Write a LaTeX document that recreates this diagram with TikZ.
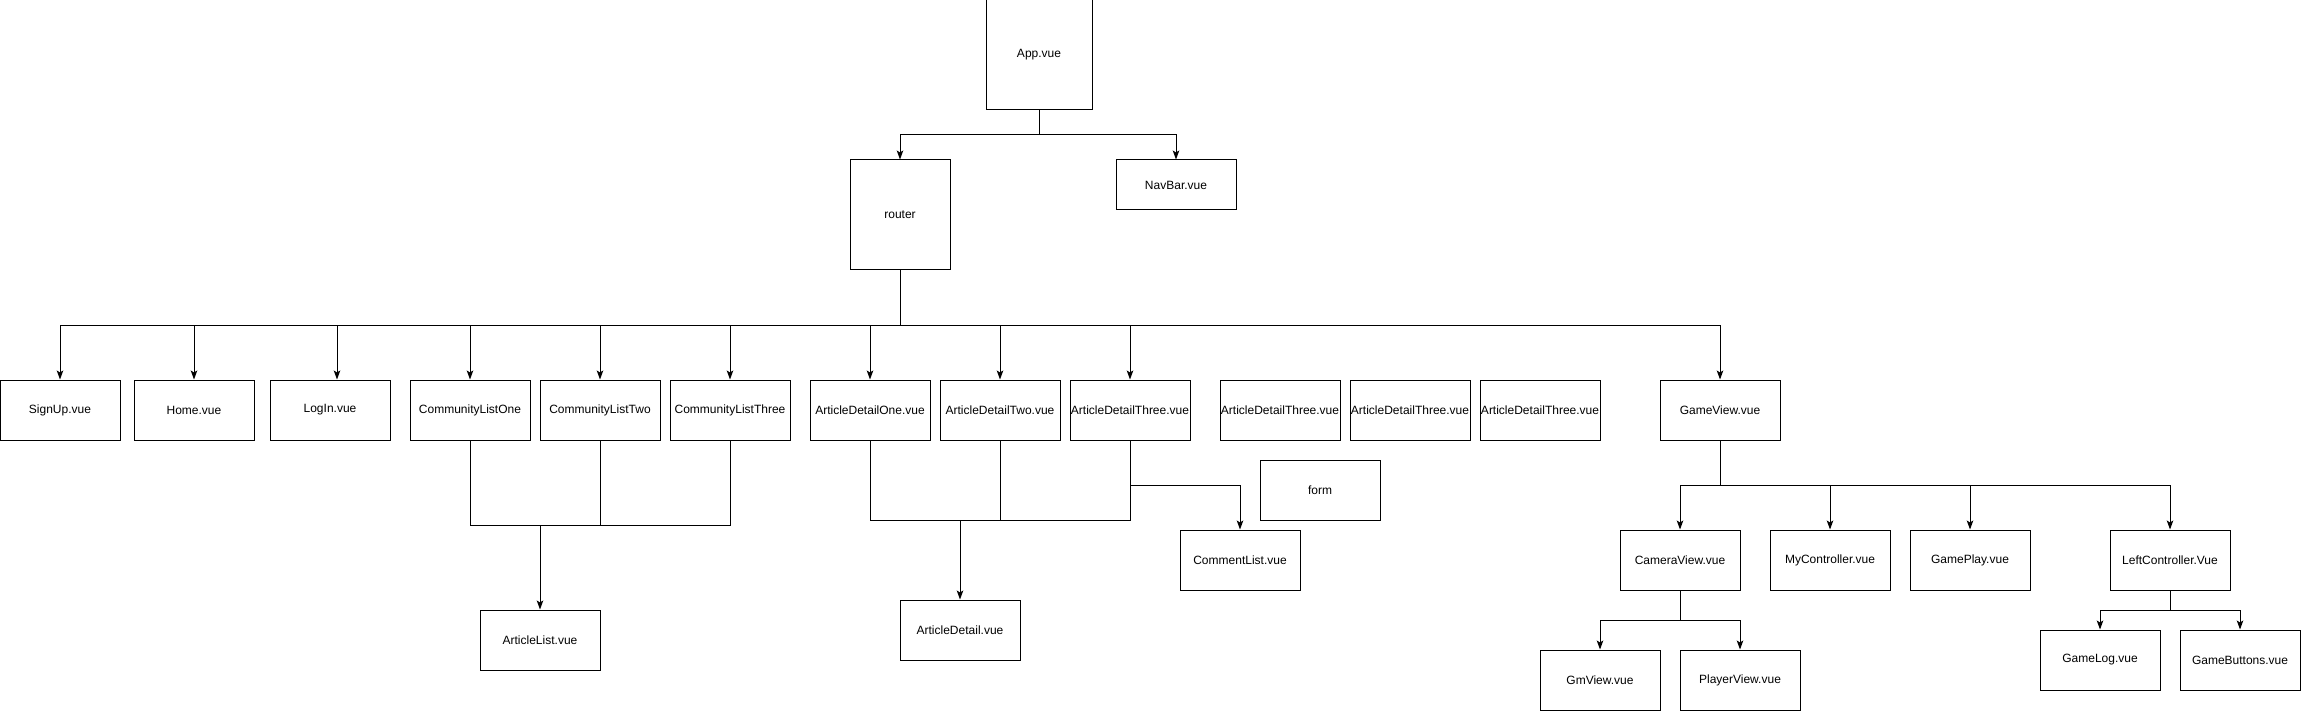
\documentclass[tikz,border=0pt]{standalone}
\usepackage{fontspec}
\setmainfont{Liberation Sans}
\usetikzlibrary{arrows.meta}
\tikzset{
  box/.style={draw, line width=1pt, inner sep=0pt, minimum width=120pt, minimum height=60pt, font=\fontsize{12}{14}\selectfont},
  conn/.style={line width=1pt},
  arr/.style={line width=1pt, -{Stealth[length=9pt,width=6.5pt,inset=2pt]}}
}
\begin{document}
\begin{tikzpicture}[x=1pt,y=-1pt]
\useasboundingbox (0,0) rectangle (2301,711);
% top
\node[box, minimum width=106pt, minimum height=110pt] (app) at (1039,55) {App.vue};
\node[box, minimum width=100pt, minimum height=110pt] (router) at (900,215) {router};
\node[box, minimum width=120pt, minimum height=50pt] (navbar) at (1176,185) {NavBar.vue};
% row
\node[box] (signup) at (60,410) {SignUp.vue};
\node[box] (home) at (194,410) {Home.vue};
\node[box] (login) at (330,410) {LogIn.vue};
\node[box] (clone) at (470,410) {CommunityListOne};
\node[box] (cltwo) at (600,410) {CommunityListTwo};
\node[box] (clthree) at (730,410) {CommunityListThree};
\node[box] (adone) at (870,410) {ArticleDetailOne.vue};
\node[box] (adtwo) at (1000,410) {ArticleDetailTwo.vue};
\node[box] (adthree) at (1130,410) {ArticleDetailThree.vue};
\node[box] (adx) at (1280,410) {ArticleDetailThree.vue};
\node[box] (ady) at (1410,410) {ArticleDetailThree.vue};
\node[box] (adz) at (1540,410) {ArticleDetailThree.vue};
\node[box] (game) at (1720,410) {GameView.vue};
% lower
\node[box] (alist) at (540,640) {ArticleList.vue};
\node[box] (adetail) at (960,630) {ArticleDetail.vue};
\node[box] (clist) at (1240,560) {CommentList.vue};
\node[box] (form) at (1320,490) {form};
\node[box] (camera) at (1680,560) {CameraView.vue};
\node[box] (myctrl) at (1830,560) {MyController.vue};
\node[box] (gplay) at (1970,560) {GamePlay.vue};
\node[box] (leftc) at (2170,560) {LeftController.Vue};
\node[box] (gm) at (1600,680) {GmView.vue};
\node[box] (player) at (1740,680) {PlayerView.vue};
\node[box] (glog) at (2100,660) {GameLog.vue};
\node[box] (gbtn) at (2240,660) {GameButtons.vue};
% bus coordinates
\coordinate (busA) at (1039,135);
\coordinate (busR) at (900,325);
\coordinate (busCL) at (540,525);
\coordinate (busAD) at (960,520);
\coordinate (busCM) at (1130,485);
\coordinate (busG) at (1720,485);
\coordinate (busC) at (1680,620);
\coordinate (busL) at (2170,610);
% App
\draw[arr] (app.south) -- (busA) -| (router.north);
\draw[arr] (app.south) -- (busA) -| (navbar.north);
% router
\foreach \n in {signup,home,clone,cltwo,clthree,adone,adtwo,adthree,game}
  \draw[arr] (router.south) -- (busR) -| (\n.north);
\draw[arr] (router.south) -- (busR) -| ([xshift=7pt]login.north);
% community lists
\foreach \n in {clone,cltwo,clthree}
  \draw[conn] (\n.south) |- (busCL);
\draw[arr] (busCL) -- (alist.north);
% article details
\foreach \n in {adone,adtwo,adthree}
  \draw[conn] (\n.south) |- (busAD);
\draw[arr] (busAD) -- (adetail.north);
\draw[arr] (adthree.south) -- (busCM) -| (clist.north);
% game
\foreach \n in {camera,myctrl,gplay,leftc}
  \draw[arr] (game.south) -- (busG) -| (\n.north);
\foreach \n in {gm,player}
  \draw[arr] (camera.south) -- (busC) -| (\n.north);
\foreach \n in {glog,gbtn}
  \draw[arr] (leftc.south) -- (busL) -| (\n.north);
\end{tikzpicture}
\end{document}
